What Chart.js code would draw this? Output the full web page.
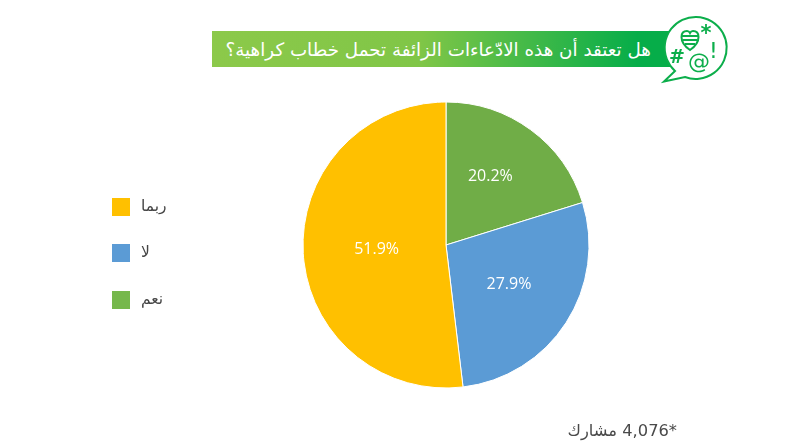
<!DOCTYPE html>
<html lang="ar">
<head>
<meta charset="utf-8">
<style>
html,body{margin:0;padding:0;background:#fff;width:794px;height:446px;overflow:hidden;font-family:"DejaVu Sans",sans-serif}
#wrap{position:relative;width:794px;height:446px}
canvas{position:absolute;left:0;top:0}
#banner{position:absolute;left:212px;top:31px;width:462px;height:36px;background:linear-gradient(90deg,#8cc94a 0%,#80c647 45%,#06ad49 92%)}
#title{position:absolute;right:143px;top:31px;height:36px;line-height:37px;color:#fff;font-size:18.3px;white-space:nowrap;direction:rtl}
#icon{position:absolute;left:655px;top:10px}
.sw{position:absolute;left:112px;width:18px;height:18px}
.lt{position:absolute;left:141px;text-align:left;font-size:15.5px;color:#444;line-height:18px;direction:rtl;white-space:nowrap}
#foot{position:absolute;right:117px;top:421px;font-size:16.3px;color:#4a4a4a;direction:rtl;white-space:nowrap}
</style>
</head>
<body>
<div id="wrap">
<canvas id="c" width="794" height="446"></canvas>
<div id="banner"></div>
<div id="title"></div>
<svg id="icon" width="80" height="76" viewBox="655 10 80 76">
<path d="M675 71 L664 81.500 L685 77 A31 31 0 1 0 675 71 Z" fill="#fff" stroke="#0cae4b" stroke-width="2" stroke-linejoin="miter"/>
<path d="M690 50 C684 46 681.500 41 681.500 37 C681.500 33 684 31 687 31 C688.500 31 689.500 32 690 33 C690.500 32 691.500 31 693 31 C696 31 698.500 33 698.500 37 C698.500 41 696 46 690 50 Z" fill="none" stroke="#0cae4b" stroke-width="2"/>
<path d="M682 36 H698 M682.500 40 H697.500 M685 44 H695" stroke="#0cae4b" stroke-width="2"/>
<g fill="#0cae4b" font-family="DejaVu Sans,sans-serif" text-anchor="middle">
<text x="706" y="40" font-size="21" font-weight="bold">*</text>
<text x="713.500" y="58" font-size="22">!</text>
<text x="677" y="63" font-size="19" font-weight="bold">#</text>
<text x="699" y="69" font-size="22">@</text>
</g>
</svg>
<div id="foot"></div>
</div>
<script src="https://cdn.jsdelivr.net/npm/chart.js@4"></script>
<script>
const titleText = "هل تعتقد أن هذه الادّعاءات الزائفة تحمل خطاب كراهية؟";
const footText = "*4,076 مشارك";
const categories = ["نعم", "لا", "ربما"];
const values = [20.2, 27.9, 51.9];
const sliceColors = ["#70AD47", "#5B9BD5", "#FFC000"];
const legendColors = ["#76B84C", "#5B9BD5", "#FFC000"];
const legendOrder = [2, 1, 0];
const legendTops = [198, 244, 291];
const labelNudges = [[2, -11], [3, 1], [2, 0]];

document.getElementById("title").textContent = titleText;
document.getElementById("foot").textContent = footText;
const wrap = document.getElementById("wrap");
legendOrder.forEach((idx, i) => {
  const s = document.createElement("div");
  s.className = "sw";
  s.style.top = legendTops[i] + "px";
  s.style.background = legendColors[idx];
  wrap.appendChild(s);
  const t = document.createElement("div");
  t.className = "lt";
  t.style.top = (legendTops[i] - 1) + "px";
  t.textContent = categories[idx];
  wrap.appendChild(t);
});

const sliceLabels = {
  id: "sliceLabels",
  afterDatasetsDraw(chart) {
    const ctx = chart.ctx;
    const arcs = chart.getDatasetMeta(0).data;
    ctx.save();
    ctx.fillStyle = "#fff";
    ctx.font = "16px 'Open Sans', sans-serif";
    ctx.textAlign = "center";
    ctx.textBaseline = "middle";
    arcs.forEach((arc, i) => {
      const p = arc.tooltipPosition(true);
      ctx.fillText(values[i].toFixed(1) + "%", p.x + labelNudges[i][0], p.y + labelNudges[i][1]);
    });
    ctx.restore();
  }
};

new Chart(document.getElementById("c"), {
  type: "pie",
  data: {
    labels: categories,
    datasets: [{ data: values, backgroundColor: sliceColors, borderColor: "#fff", borderWidth: 1 }]
  },
  options: {
    responsive: false,
    animation: false,
    layout: { padding: { left: 302.5, right: 204.5, top: 101.5, bottom: 57.5 } },
    plugins: { legend: { display: false }, tooltip: { enabled: false }, title: { display: false } }
  },
  plugins: [sliceLabels]
});
</script>
</body>
</html>
